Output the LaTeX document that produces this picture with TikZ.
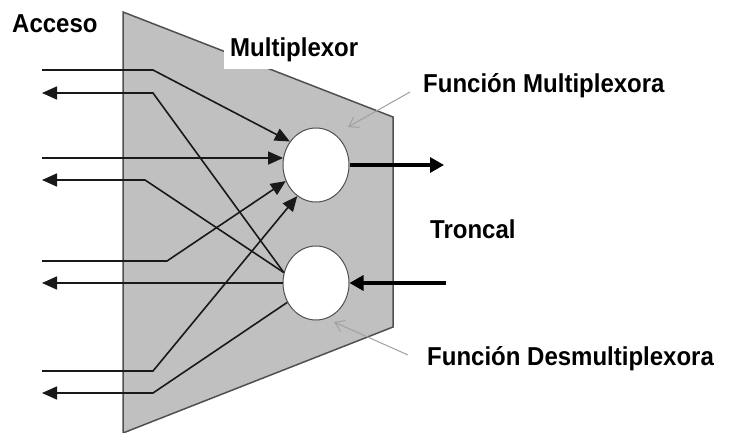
\documentclass[tikz,border=0pt]{standalone}
\usepackage{fontspec}
\setmainfont{Liberation Sans}
\usetikzlibrary{arrows.meta,shapes.geometric}
\definecolor{boxgray}{RGB}{192,192,192}
\definecolor{edgegray}{RGB}{80,80,80}
\definecolor{ptrgray}{RGB}{160,160,160}
\begin{document}
\begin{tikzpicture}[x=1pt,y=-1pt,
  lbl/.style={font=\fontsize{24}{28}\selectfont\bfseries, anchor=base west, inner sep=0pt, yscale=1.08},
  fn/.style={ellipse, draw=edgegray, line width=1pt, fill=white, minimum width=66pt, minimum height=74pt, inner sep=0pt},
  wire/.style={line width=1.6pt, draw=black!90},
  tip/.style={-{Triangle[length=15pt,width=13pt]}},
  trunk/.style={line width=3.2pt, -{Triangle[length=14pt,width=15pt]}},
  ptr/.style={draw=ptrgray, line width=1pt, -{Straight Barb[length=9pt,width=12pt]}}]
\useasboundingbox (0,0) rectangle (738,433);
% body
\fill[boxgray] (123,12) -- (393,117) -- (393,327) -- (123,433) -- cycle;
\draw[edgegray, line width=1.5pt] (123,12) -- (393,117) -- (393,327) -- (123,433) -- cycle;
% label Multiplexor with white background
\node[lbl, fill=white, inner xsep=6pt, inner ysep=6pt, anchor=base west] (mlab) at (224,57) {Multiplexor};
% function circles
\node[fn] (mux) at (316,165) {};
\node[fn] (demux) at (316,283) {};
% wire bends
\coordinate (a1) at (42,70);  \coordinate (b1) at (153,70);
\coordinate (a2) at (42,93);  \coordinate (b2) at (153,93);
\coordinate (a3) at (42,158);
\coordinate (a4) at (42,180); \coordinate (b4) at (145,180);
\coordinate (a5) at (42,261); \coordinate (b5) at (167,261);
\coordinate (a6) at (42,283);
\coordinate (a7) at (42,371); \coordinate (b7) at (153,371);
\coordinate (a8) at (42,393); \coordinate (b8) at (153,393);
\coordinate (tout) at (444,165);
\coordinate (tin) at (446,283);
% inputs
\draw[wire,tip] (a1) -- (b1) -- (mux.138);
\draw[wire,tip] (a3) -- (mux.168);
\draw[wire,tip] (a5) -- (b5) -- (mux.208);
\draw[wire,tip] (a7) -- (b7) -- (mux.239);
% outputs
\draw[wire,tip] (demux.162) -- (b2) -- (a2);
\draw[wire,tip] (demux.162) -- (b4) -- (a4);
\draw[wire,tip] (demux.180) -- (a6);
\draw[wire,tip] (demux.214) -- (b8) -- (a8);
% trunk
\draw[trunk] (mux.east) -- (tout);
\draw[trunk] (tin) -- (demux.east);
% labels
\node[lbl] (acc) at (12,33) {Acceso};
\node[lbl] (fm) at (423,93) {Función Multiplexora};
\node[lbl] (tr) at (430,238) {Troncal};
\node[lbl] (fd) at (427,365) {Función Desmultiplexora};
% pointers
\coordinate (p1) at (410,92);
\coordinate (p2) at (408,355);
\draw[ptr] (p1) -- (348,127);
\draw[ptr] (p2) -- (334,322);
\end{tikzpicture}
\end{document}
